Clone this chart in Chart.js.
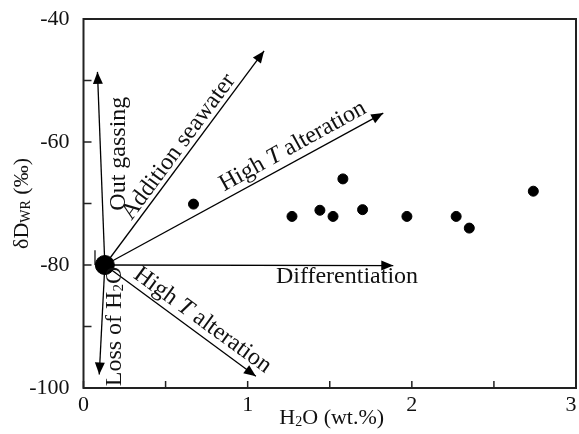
<!DOCTYPE html>
<html>
<head>
<meta charset="utf-8">
<script src="https://cdn.jsdelivr.net/npm/chart.js@4.4.1/dist/chart.umd.min.js"></script>
<style>
  html, body { margin: 0; padding: 0; background: #fff; }
  #wrap { width: 579px; height: 434px; }
</style>
</head>
<body>
<div id="wrap"><canvas id="myChart"></canvas></div>
<script>
//Samples: whole-rock H2O (wt.%) and dD (permil)
var sampleH2O = [0.67, 1.27, 1.44, 1.52, 1.58, 1.70, 1.97, 2.27, 2.35, 2.74];
var sampleDD  = [-70.1, -72.1, -71.1, -72.1, -66.0, -71.0, -72.1, -72.1, -74.0, -68.0];

//Starting composition the process arrows come out of
var startH2O = 0.13;
var startDD = -80;

//Where each process arrow ends
var arrowNames = ["Out gassing", "Addition seawater", "High T alteration", "Differentiation", "High T alteration", "Loss of H2O"];
var arrowH2O = [0.085, 1.10, 1.826, 1.887, 1.05, 0.096];
var arrowDD  = [-48.6, -45.2, -55.3, -80.1, -98.1, -97.8];

//Little mark left of the starting point
var markH2O = [0.07, 0.07];
var markDD  = [-77.6, -80];

//Tick labels that are printed
var xLabels = [0, 1, 2, 3];
var yLabels = [-40, -60, -80, -100];

var serif = "'Liberation Serif', 'Times New Roman', serif";

function fontFor(kind, size) {
  if (kind == "s") return Math.round(size * 0.62) + "px " + serif;
  if (kind == "i") return "italic " + size + "px " + serif;
  return size + "px " + serif;
}

//draw text made of pieces (n = normal, i = italic, s = subscript), centred on x,y
function drawRich(ctx, parts, x, y, angle, size) {
  ctx.save();
  ctx.translate(x, y);
  ctx.rotate(angle * Math.PI / 180);
  ctx.textBaseline = "middle";
  ctx.textAlign = "left";
  ctx.fillStyle = "#111";
  var total = 0, widths = [];
  parts.forEach(function (p) {
    ctx.font = fontFor(p[1], size);
    var w = ctx.measureText(p[0]).width;
    widths.push(w);
    total += w;
  });
  var cx = -total / 2;
  parts.forEach(function (p, i) {
    ctx.font = fontFor(p[1], size);
    ctx.fillText(p[0], cx, p[1] == "s" ? size * 0.2 : 0);
    cx += widths[i];
  });
  ctx.restore();
}

//text beside the arrows: [pieces, H2O, dD, angle]
var arrowText = [
  [[["Out gassing", "n"]], 0.213, -61.9, -90],
  [[["Addition seawater", "n"]], 0.579, -60.8, -53.5],
  [[["High ", "n"], ["T", "i"], [" alteration", "n"]], 1.275, -60.7, -29],
  [[["Differentiation", "n"]], 1.605, -81.9, 0],
  [[["High ", "n"], ["T", "i"], [" alteration", "n"]], 0.725, -89.0, 36],
  [[["Loss of H", "n"], ["2", "s"], ["O", "n"]], 0.189, -90.0, -90]
];

var decorations = {
  id: "decorations",
  afterDatasetsDraw: function (chart) {
    var ctx = chart.ctx, a = chart.chartArea;
    var xs = chart.scales.x, ys = chart.scales.y;

    //arrow heads
    chart.data.datasets.forEach(function (ds, i) {
      if (!ds.arrow) return;
      var pts = chart.getDatasetMeta(i).data;
      var p0 = pts[0], p1 = pts[1];
      var ang = Math.atan2(p1.y - p0.y, p1.x - p0.x);
      var len = 12, half = 5;
      ctx.save();
      ctx.translate(p1.x, p1.y);
      ctx.rotate(ang);
      ctx.beginPath();
      ctx.moveTo(0, 0);
      ctx.lineTo(-len, -half);
      ctx.lineTo(-len, half);
      ctx.closePath();
      ctx.fillStyle = "#000";
      ctx.fill();
      ctx.restore();
    });

    //frame and inward ticks
    ctx.save();
    ctx.strokeStyle = "#222";
    ctx.lineWidth = 2;
    ctx.strokeRect(a.left, a.top, a.right - a.left, a.bottom - a.top);
    ctx.lineWidth = 1.5;
    ctx.beginPath();
    xs.ticks.forEach(function (t) {
      var px = xs.getPixelForValue(t.value);
      ctx.moveTo(px, a.bottom);
      ctx.lineTo(px, a.bottom - 7);
    });
    ys.ticks.forEach(function (t) {
      var py = ys.getPixelForValue(t.value);
      ctx.moveTo(a.left, py);
      ctx.lineTo(a.left + 8, py);
    });
    ctx.stroke();
    ctx.restore();

    //arrow texts
    arrowText.forEach(function (t) {
      drawRich(ctx, t[0], xs.getPixelForValue(t[1]), ys.getPixelForValue(t[2]), t[3], 24);
    });

    //axis titles
    drawRich(ctx, [["H", "n"], ["2", "s"], ["O (wt.%)", "n"]], (a.left + a.right) / 2 + 2, 418, 0, 22);
    drawRich(ctx, [["\u03b4D", "n"], ["WR", "s"], [" (\u2030)", "n"]], 22, (a.top + a.bottom) / 2, -90, 22);
  }
};

var datasets = [
  {
    data: [{x: startH2O, y: startDD}],
    backgroundColor: "#000",
    borderColor: "#000",
    pointRadius: 9.5,
    showLine: false
  },
  {
    data: sampleH2O.map(function (v, i) { return {x: v, y: sampleDD[i]}; }),
    backgroundColor: "#000",
    borderColor: "#000",
    pointRadius: 5,
    showLine: false
  },
  {
    data: markH2O.map(function (v, i) { return {x: v, y: markDD[i]}; }),
    borderColor: "#000",
    borderWidth: 1.2,
    pointRadius: 0,
    showLine: true
  }
];
arrowNames.forEach(function (name, i) {
  datasets.push({
    label: name,
    arrow: true,
    data: [{x: startH2O, y: startDD}, {x: arrowH2O[i], y: arrowDD[i]}],
    borderColor: "#000",
    borderWidth: 1.3,
    pointRadius: 0,
    showLine: true
  });
});

var ctx = document.getElementById("myChart");
var myChart = new Chart(ctx, {
  type: "scatter",
  data: { datasets: datasets },
  options: {
    responsive: true,
    maintainAspectRatio: false,
    animation: false,
    layout: { autoPadding: false, padding: { top: 19, right: 3, left: 0, bottom: 0 } },
    plugins: { legend: { display: false }, tooltip: { enabled: false } },
    scales: {
      x: {
        type: "linear",
        min: 0, max: 3,
        grid: { display: false, drawTicks: false },
        border: { display: false },
        afterFit: function (s) { s.height = 46; s.paddingLeft = 0; s.paddingRight = 0; },
        ticks: {
          stepSize: 0.5,
          autoSkip: false,
          maxRotation: 0,
          padding: 4,
          color: "#111",
          font: { family: serif, size: 22 },
          callback: function (v) {
            if (xLabels.indexOf(v) < 0) return "";
            //last label sits against the canvas edge, nudge it in with trailing spaces
            return v == xLabels[xLabels.length - 1] ? v + "\u2009 " : v;
          }
        }
      },
      y: {
        type: "linear",
        min: -100, max: -40,
        grid: { display: false, drawTicks: false },
        border: { display: false },
        afterFit: function (s) { s.width = 83.5; s.paddingTop = 0; s.paddingBottom = 0; },
        ticks: {
          stepSize: 10,
          autoSkip: false,
          padding: 14,
          color: "#111",
          font: { family: serif, size: 22 },
          callback: function (v) { return yLabels.indexOf(v) >= 0 ? v : ""; }
        }
      }
    }
  },
  plugins: [decorations]
});
</script>
</body>
</html>
